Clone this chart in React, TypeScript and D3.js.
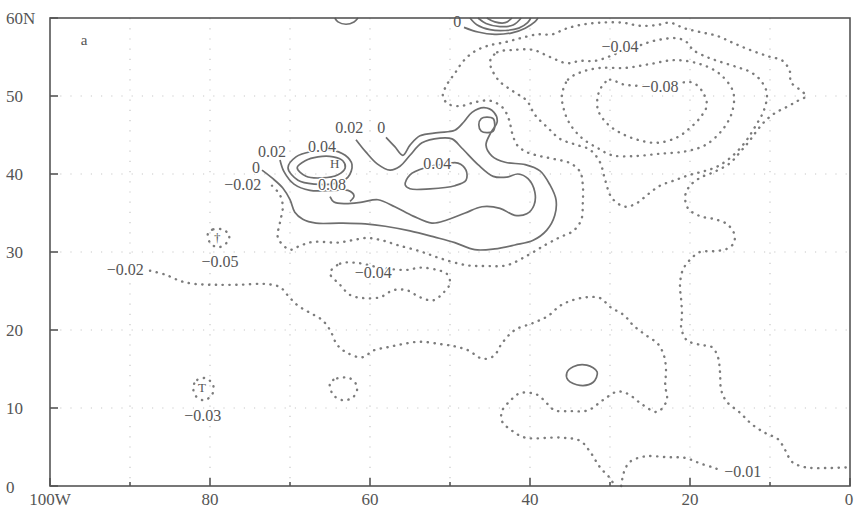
import React from "react";
import * as d3 from "d3";

type P = [number, number];

// axis ticks (longitude west, latitude north)
const lonTicks = [100, 80, 60, 40, 20, 0];
const lonLabels = ["100W", "80", "60", "40", "20", "0"];
const lonMinor = [90, 70, 50, 30, 10];
const latTicks = [60, 50, 40, 30, 20, 10, 0];
const latLabels = ["60N", "50", "40", "30", "20", "10", "0"];
const gridLon = [90, 80, 70, 60, 50, 40, 30, 20, 10];
const gridLat = [10, 20, 30, 40, 50];

// ---- solid contours (>= 0) ----
const topCap: P[] = [[64.4, 60], [64.0, 59.5], [63.0, 59.2], [62.0, 59.5], [61.5, 60]];
const topArc1: P[] = [[48.25, 58.8], [46.5, 58.2], [44.4, 57.9], [42.25, 58.1], [40.6, 58.7], [39.4, 59.5], [39.0, 60]];
const topArc2: P[] = [[47.5, 60], [46.6, 59.1], [45, 58.5], [43.1, 58.4], [41.4, 58.7], [40.3, 59.4], [39.9, 60]];
const topArc3: P[] = [[46.5, 60], [45.5, 59.3], [43.75, 58.9], [42.1, 59.1], [41.1, 60]];
const topArc4: P[] = [[45.4, 60], [44.4, 59.5], [43.1, 59.4], [42.25, 60]];
const zeroMain: P[] = [
  [73.5, 40.5], [72.25, 39.5], [70.9, 38.2], [70.0, 36.7], [69.4, 35.1], [68.4, 34.2], [66.75, 33.7],
  [63.75, 33.7], [60.6, 33.6], [58.1, 33.3], [55.0, 32.7], [51.9, 31.9], [49.4, 31.2], [46.9, 30.3],
  [44.4, 30.4], [41.9, 30.9], [39.6, 31.5], [37.9, 32.8], [36.9, 34.7], [36.75, 36.7], [37.5, 38.6],
  [38.75, 40.4], [40.6, 41.2], [43.1, 41.5], [44.75, 42.3], [45.5, 43.7], [44.9, 45.3], [44.1, 46.7],
  [44.5, 47.9], [45.75, 48.5], [47.25, 47.9], [48.25, 46.7], [49.4, 45.6], [51.5, 45.3], [53.75, 44.9],
  [55.0, 43.7], [55.9, 42.4], [56.9, 43.5], [58.0, 44.7],
];
const smallRing: P[] = [[45.4, 47.3], [44.6, 47.1], [44.4, 46.3], [44.6, 45.5], [45.4, 45.3], [46.1, 45.5], [46.4, 46.3], [46.1, 47.1]];
const pos02East: P[] = [
  [61.75, 44.4], [60.5, 42.8], [59.1, 41.3], [57.5, 40.5], [56.25, 41.0], [55.0, 42.4], [53.5, 44.0],
  [51.25, 44.6], [49.75, 44.5], [48.5, 43.3], [46.5, 41.2], [44.6, 39.7], [42.9, 39.6], [41.5, 40.0],
  [40.25, 39.4], [39.4, 37.7], [39.5, 36.0], [40.4, 34.9], [41.9, 34.7], [43.75, 35.6], [46.0, 35.8],
  [48.1, 35.0], [50.4, 34.1], [52.25, 33.7], [54.6, 34.6], [56.9, 35.8], [59.0, 36.7], [61.0, 36.4],
  [63.1, 36.2], [64.5, 36.4], [65.0, 37.1],
];
const pos04East: P[] = [[55.6, 38.6], [55.0, 39.9], [53.1, 40.8], [50.6, 41.3], [49.0, 41.4], [48.0, 40.5], [48.0, 39.2], [49.4, 38.5], [52.5, 38.1], [55.0, 38.1]];
const pos02West: P[] = [[71.25, 41.8], [70.75, 40.3], [69.5, 38.7], [67.5, 37.9], [64.6, 37.9], [62.75, 37.9], [62.0, 37.2], [62.5, 36.5]];
const posLoop1: P[] = [[70.25, 40.8], [69.25, 42.2], [67.25, 42.9], [65.0, 43.1], [63.1, 42.4], [62.25, 41.2], [62.75, 39.6], [64.4, 38.8], [66.9, 38.7], [69.0, 39.2]];
const posLoop2: P[] = [[69.1, 40.8], [68.1, 41.7], [66.5, 42.2], [64.6, 42.2], [63.4, 41.7], [63.1, 40.8], [64.0, 39.9], [66.0, 39.5], [68.0, 39.7]];
const southRing: P[] = [[35.4, 14.5], [34.6, 15.3], [32.9, 15.5], [31.6, 14.6], [32.1, 13.3], [33.75, 12.9], [35.25, 13.6]];

// ---- dotted contours (< 0) ----
const neg02North: P[] = [
  [72.25, 38.5], [71.25, 37.3], [70.9, 35.8], [71.25, 33.8], [71.5, 31.8], [70.0, 30.3], [68.75, 30.8],
  [67.1, 31.3], [64.1, 31.2], [62.25, 31.5], [60.4, 31.8], [58.5, 31.5], [56.6, 30.9], [53.75, 30.1],
  [51.25, 29.2], [47.9, 28.3], [45.4, 28.2], [42.9, 28.3], [40.25, 29.6], [38.1, 30.9], [36.25, 31.9],
  [34.6, 32.7], [33.6, 34.1], [33.4, 36.3], [33.4, 38.6], [33.75, 40.3], [35.0, 41.4], [36.9, 41.9],
  [38.75, 42.3], [40.4, 42.8], [41.6, 43.7], [42.25, 45.3], [42.6, 46.9], [43.4, 48.5], [45.0, 49.4],
  [46.9, 49.2], [48.75, 48.7], [50.25, 49.0], [50.9, 50.0], [50.25, 51.7], [49.4, 52.9], [48.4, 54.4],
  [47.1, 55.6], [45.4, 56.4], [43.1, 56.9], [41.25, 57.4], [39.1, 57.9], [37.25, 57.9], [35.6, 58.6],
  [33.75, 59.1], [31.25, 59.4], [28.4, 59.4], [26.25, 59.0], [24.1, 59.1], [22.5, 59.4], [20.75, 58.7],
  [18.75, 58.2], [16.6, 57.7], [14.6, 56.8], [12.5, 55.9], [10.25, 55.1], [8.4, 54.5], [7.5, 53.1],
  [7.4, 51.8], [6.4, 50.9], [5.5, 50.0], [6.5, 49.4], [7.9, 48.6], [9.4, 47.8], [10.6, 46.8],
  [11.6, 45.6], [12.6, 44.2], [13.75, 42.8], [15.0, 41.4], [16.9, 40.3], [18.75, 39.5], [20.0, 38.5],
  [20.6, 37.2], [20.25, 35.6], [18.75, 34.6], [16.9, 34.2], [15.4, 33.6], [14.5, 32.4], [14.5, 31.2],
  [15.4, 30.4], [17.1, 30.1], [18.75, 30.0], [20.0, 29.0], [20.9, 27.7], [21.25, 25.8], [21.1, 23.8],
  [21.0, 21.9], [21.1, 20.3], [20.4, 18.7], [18.75, 18.1], [17.25, 17.8], [16.5, 16.5], [16.25, 14.6],
  [16.1, 12.3], [15.4, 10.8], [13.75, 9.4], [12.25, 7.9], [10.6, 6.8], [9.0, 6.0], [8.1, 4.6],
  [7.25, 3.1], [5.6, 2.4], [3.1, 2.3], [0, 2.4],
];
const neg04North: P[] = [
  [45.0, 54.4], [44.1, 55.6], [42.1, 55.9], [39.6, 55.9], [37.5, 55.0], [35.4, 54.2], [33.75, 54.5],
  [31.9, 54.5], [30.0, 55.1], [28.1, 55.9], [26.25, 56.5], [24.4, 57.1], [21.6, 57.4], [20.4, 56.9],
  [19.6, 55.9], [17.9, 55.0], [16.25, 54.4], [14.1, 53.7], [12.5, 53.1], [11.25, 52.1], [10.4, 50.4],
  [10.75, 48.2], [11.9, 46.0], [13.1, 44.1], [14.6, 42.4], [16.5, 41.0], [18.1, 40.4], [20.0, 39.9],
  [21.9, 39.2], [23.75, 38.5], [25.25, 37.4], [26.6, 36.3], [28.1, 35.8], [29.75, 36.9], [30.6, 39.2],
  [31.25, 41.5], [32.5, 43.1], [34.4, 43.8], [36.25, 44.5], [37.75, 45.9], [39.4, 47.6], [40.4, 49.4],
  [42.1, 50.6], [44.0, 52.1],
];
const neg06North: P[] = [
  [36.0, 50.1], [35.25, 52.1], [33.5, 53.1], [31.25, 53.6], [28.1, 53.6], [25.0, 54.1], [21.9, 54.6],
  [18.75, 54.1], [16.25, 52.8], [14.6, 50.5], [14.75, 47.9], [16.0, 45.6], [18.1, 43.7], [20.6, 42.9],
  [23.75, 42.6], [26.9, 42.3], [29.75, 42.4], [31.5, 43.3], [33.5, 44.6], [35.0, 46.4], [35.75, 48.2],
];
const neg08North: P[] = [
  [30.9, 51.4], [30.0, 52.1], [28.4, 51.5], [26.25, 51.3], [23.75, 51.3], [21.25, 51.7], [19.6, 51.7],
  [18.4, 50.5], [17.9, 48.8], [18.75, 47.2], [20.0, 45.9], [21.6, 44.7], [24.1, 44.0], [26.6, 44.4],
  [28.75, 45.3], [30.4, 46.5], [31.5, 48.2], [31.5, 50.1],
];
const neg02West: P[] = [
  [87.5, 27.6], [85.6, 27.1], [83.75, 26.3], [81.9, 25.9], [79.4, 25.8], [76.25, 25.8], [73.1, 25.9],
  [71.25, 25.5], [70.25, 24.4], [69.1, 23.2], [67.5, 22.2], [66.0, 21.3], [65.0, 20.0], [64.1, 18.1],
  [62.9, 17.1], [61.0, 16.5], [59.5, 17.4], [57.75, 17.8], [55.9, 18.2], [53.75, 18.5], [51.25, 18.2],
  [49.4, 17.9], [47.75, 17.4], [45.9, 16.3], [44.5, 16.7], [43.5, 18.3], [41.9, 20.0], [39.6, 20.9],
  [37.75, 21.8], [36.25, 23.1], [34.75, 23.8], [32.9, 24.2], [31.25, 24.1], [29.9, 22.9], [28.25, 21.9],
  [27.1, 20.6], [25.6, 19.4], [24.0, 18.2], [23.25, 16.7], [23.0, 14.9], [23.1, 12.9], [22.9, 11.0],
  [24.1, 9.5], [25.9, 10.4], [27.75, 11.8], [29.1, 12.1], [30.9, 11.0], [32.75, 9.7], [35.0, 9.6],
  [36.9, 9.7], [37.9, 10.6], [39.1, 11.7], [41.25, 11.9], [42.5, 10.9], [43.5, 9.6], [43.5, 8.3],
  [42.4, 7.2], [40.6, 6.2], [36.25, 6.2], [33.75, 5.8], [32.5, 4.4], [31.25, 2.4], [30.0, 1.0], [29.4, 0],
];
const neg01South: P[] = [[28.6, 0], [28.25, 1.8], [27.5, 3.1], [25.6, 3.8], [22.9, 3.7], [20.6, 3.6], [18.75, 2.9], [16.9, 2.3], [16.0, 1.9]];
const neg04South: P[] = [
  [65.0, 27.3], [63.75, 28.5], [61.6, 28.6], [58.75, 28.0], [55.4, 27.7], [53.75, 28.0], [51.6, 27.7],
  [50.4, 27.2], [50.0, 26.0], [50.9, 24.7], [52.1, 23.8], [53.75, 24.2], [55.4, 25.1], [57.1, 25.1],
  [58.75, 24.2], [60.9, 24.1], [62.5, 24.5], [63.75, 25.8],
];
const negSmallSouth: P[] = [[65.0, 13.2], [64.1, 13.8], [62.5, 13.8], [61.6, 12.7], [62.1, 11.4], [63.4, 11.0], [64.6, 11.7]];
const neg05Ring: P[] = [[80.25, 32.4], [79.6, 32.9], [78.5, 32.9], [77.6, 32.2], [77.9, 31.2], [79.0, 30.6], [80.0, 31.2]];
const neg03Ring: P[] = [[82.1, 12.7], [81.6, 13.6], [80.5, 13.8], [79.6, 12.9], [79.75, 11.7], [80.75, 11.0], [81.75, 11.5]];

// contour labels: [lonW, lat, text]
const contourLabels: [number, number, string][] = [
  [72.25, 42.9, "0.02"], [66.0, 43.5, "0.04"], [74.25, 40.8, "0"], [75.9, 38.7, "\u22120.02"],
  [64.75, 38.7, "0.08"], [62.6, 45.9, "0.02"], [58.6, 46.0, "0"], [51.6, 41.4, "0.04"],
  [49.1, 59.5, "0"], [28.75, 56.3, "\u22120.04"], [23.75, 51.2, "\u22120.08"], [59.6, 27.4, "\u22120.04"],
  [90.6, 27.8, "\u22120.02"], [78.75, 28.8, "\u22120.05"], [80.9, 9.1, "\u22120.03"], [13.4, 1.8, "\u22120.01"],
];
const centerMarks: [number, number, string][] = [[64.4, 41.3, "H"], [79.1, 31.8, "\u2020"], [81.0, 12.6, "T"]];

const solidOpen = [topCap, topArc1, topArc2, topArc3, topArc4, zeroMain, pos02East, pos02West];
const solidClosed = [smallRing, pos04East, posLoop1, posLoop2, southRing];
const dottedOpen = [neg02North, neg02West, neg01South];
const dottedClosed = [neg04North, neg06North, neg08North, neg04South, negSmallSouth, neg05Ring, neg03Ring];

const W = 858, H = 510;
const FONT = "'Liberation Serif', 'DejaVu Serif', serif";

export default function App() {
  const x = d3.scaleLinear().domain([100, 0]).range([50, 850]);
  const y = d3.scaleLinear().domain([0, 60]).range([486, 18]);
  const open = d3.line<P>().x((d) => x(d[0])).y((d) => y(d[1])).curve(d3.curveCatmullRom.alpha(0.5));
  const closed = d3.line<P>().x((d) => x(d[0])).y((d) => y(d[1])).curve(d3.curveCatmullRomClosed.alpha(0.5));
  const ink = "#6e6e6e";
  const solidStyle = { fill: "none", stroke: ink, strokeWidth: 1.7 };
  const dotStyle = { fill: "none", stroke: "#7c7c7c", strokeWidth: 2.4, strokeDasharray: "0.3,6.5", strokeLinecap: "round" as const };
  return (
    <svg width={W} height={H} style={{ position: "absolute", left: 0, top: 0, background: "#fff" }}>
      <rect width={W} height={H} fill="#fff" />
      <g>
        {gridLon.map((g) => (
          <line key={"gx" + g} x1={x(g)} x2={x(g)} y1={y(60)} y2={y(0)} stroke="#c8c8c8" strokeWidth={1.2} strokeDasharray="1.2,9" />
        ))}
        {gridLat.map((g) => (
          <line key={"gy" + g} x1={x(100)} x2={x(0)} y1={y(g)} y2={y(g)} stroke="#c8c8c8" strokeWidth={1.2} strokeDasharray="1.2,9" />
        ))}
      </g>
      <g>
        {solidOpen.map((c, i) => <path key={"so" + i} d={open(c) || ""} style={solidStyle} />)}
        {solidClosed.map((c, i) => <path key={"sc" + i} d={closed(c) || ""} style={solidStyle} />)}
        {dottedOpen.map((c, i) => <path key={"do" + i} d={open(c) || ""} style={dotStyle} />)}
        {dottedClosed.map((c, i) => <path key={"dc" + i} d={closed(c) || ""} style={dotStyle} />)}
      </g>
      <g style={{ fontFamily: FONT, fontSize: "16px" }} fill="#555">
        {contourLabels.map(([lo, la, t], i) => (
          <text key={"cl" + i} x={x(lo)} y={y(la)} textAnchor="middle" dominantBaseline="central"
            stroke="#fff" strokeWidth={3} paintOrder="stroke">{t}</text>
        ))}
        {centerMarks.map(([lo, la, t], i) => (
          <text key={"cm" + i} x={x(lo)} y={y(la)} textAnchor="middle" dominantBaseline="central" style={{ fontSize: "13px" }}>{t}</text>
        ))}
      </g>
      <rect x={x(100)} y={y(60)} width={x(0) - x(100)} height={y(0) - y(60)} fill="none" stroke="#555" strokeWidth={1.6} />
      <g stroke="#555" strokeWidth={1.6}>
        {lonTicks.map((t) => <line key={"xt" + t} x1={x(t)} x2={x(t)} y1={y(0)} y2={y(0) - 8} />)}
        {lonMinor.map((t) => <line key={"xm" + t} x1={x(t)} x2={x(t)} y1={y(0)} y2={y(0) - 4} />)}
        {latTicks.map((t) => <line key={"yt" + t} x1={x(100)} x2={x(100) + 8} y1={y(t)} y2={y(t)} />)}
      </g>
      <g style={{ fontFamily: FONT, fontSize: "17px" }} fill="#555">
        {lonTicks.map((t, i) => (
          <text key={"xl" + t} x={t === 0 ? x(t) - 1 : x(t)} y={499} textAnchor="middle" dominantBaseline="central">{lonLabels[i]}</text>
        ))}
        {latTicks.map((t, i) => (
          <text key={"yl" + t} x={6} y={t === 0 ? y(t) + 1 : y(t)} dominantBaseline="central">{latLabels[i]}</text>
        ))}
        <text x={84} y={40} style={{ fontSize: "15px" }} textAnchor="middle" dominantBaseline="central">a</text>
      </g>
    </svg>
  );
}
